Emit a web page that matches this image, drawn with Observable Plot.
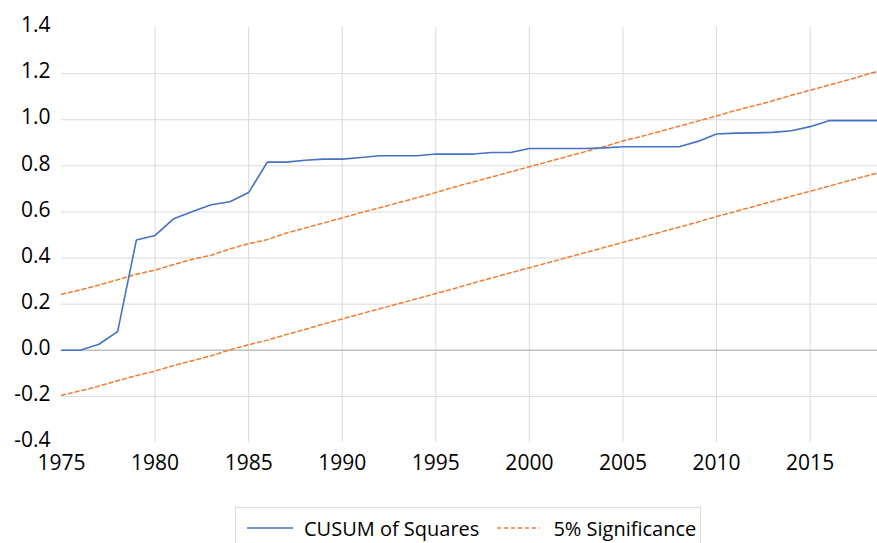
<!DOCTYPE html>
<html><head><meta charset="utf-8">
<script src="https://cdn.jsdelivr.net/npm/d3@7"></script>
<script src="https://cdn.jsdelivr.net/npm/@observablehq/plot@0.6"></script>
<style>
body{margin:0;background:#fff;font-family:"Open Sans",sans-serif;}
#chart{position:absolute;left:0;top:0;}
#legend{position:absolute;left:235px;top:507px;width:466px;height:42px;border:1px solid #d9d9d9;box-sizing:border-box;display:flex;align-items:center;padding-left:11px;font-size:20px;color:#000;white-space:nowrap;}
#legend .item{display:flex;align-items:center;}
#legend .item + .item{margin-left:18px;}
</style>
</head><body>
<div id="chart"></div>
<div id="legend"></div>
<script>
const years = [1975,1976,1977,1978,1979,1980,1981,1982,1983,1984,1985,1986,1987,1988,1989,1990,1991,1992,1993,1994,1995,1996,1997,1998,1999,2000,2001,2002,2003,2004,2005,2006,2007,2008,2009,2010,2011,2012,2013,2014,2015,2016,2017,2018,2019];
const cusum = [0.0,0.0,0.026,0.081,0.478,0.498,0.571,0.602,0.631,0.644,0.684,0.816,0.816,0.824,0.829,0.829,0.836,0.844,0.844,0.844,0.851,0.851,0.851,0.858,0.858,0.875,0.875,0.875,0.875,0.878,0.883,0.883,0.883,0.883,0.906,0.938,0.942,0.943,0.945,0.952,0.970,0.996,0.996,0.996,0.996];
const upper = [0.243,0.262,0.283,0.306,0.330,0.348,0.372,0.395,0.412,0.440,0.462,0.480,0.508,0.530,0.552,0.574,0.597,0.618,0.640,0.662,0.684,0.708,0.730,0.752,0.774,0.796,0.818,0.840,0.862,0.884,0.908,0.928,0.950,0.972,0.994,1.016,1.040,1.060,1.082,1.106,1.128,1.150,1.172,1.196,1.218];
const lower = [-0.195,-0.176,-0.155,-0.132,-0.110,-0.090,-0.066,-0.045,-0.024,0.002,0.024,0.044,0.068,0.090,0.114,0.136,0.158,0.180,0.202,0.224,0.246,0.268,0.292,0.314,0.336,0.358,0.380,0.402,0.424,0.446,0.468,0.490,0.512,0.534,0.556,0.580,0.602,0.624,0.646,0.668,0.690,0.712,0.734,0.756,0.778];
const xTicks = [1975,1980,1985,1990,1995,2000,2005,2010,2015];
const yTicks = [-0.4,-0.2,0.0,0.2,0.4,0.6,0.8,1.0,1.2,1.4];
const yGrid = [-0.2,0.2,0.4,0.6,0.8,1.0,1.2];
const xGrid = [1980,1985,1990,1995,2000,2005,2010,2015];
const seriesNames = ["CUSUM of Squares","5% Significance"];

const data = years.map((y,i)=>({year:y, cusum:cusum[i], upper:upper[i], lower:lower[i]}));

const blue = "#4472C4", orange = "#ED7D31";

const chart = Plot.plot({
  width: 877,
  height: 500,
  marginLeft: 61,
  marginRight: 0,
  marginTop: 27,
  marginBottom: 58,
  style: {fontFamily: "'Open Sans', sans-serif", fontSize: "21px", color: "#000", background: "#fff"},
  x: {domain: [1975, 2018.6]},
  y: {domain: [-0.4, 1.4]},
  marks: [
    Plot.gridY(yGrid, {stroke: "#d9d9d9", strokeOpacity: 1, strokeWidth: 1}),
    Plot.gridX(xGrid, {stroke: "#d9d9d9", strokeOpacity: 1, strokeWidth: 1}),
    Plot.ruleY([0], {stroke: "#bfbfbf", strokeWidth: 1.5}),
    Plot.lineY(data, {x: "year", y: "upper", stroke: orange, strokeWidth: 1.5, strokeDasharray: "4,3", clip: true}),
    Plot.lineY(data, {x: "year", y: "lower", stroke: orange, strokeWidth: 1.5, strokeDasharray: "4,3", clip: true}),
    Plot.lineY(data, {x: "year", y: "cusum", stroke: blue, strokeWidth: 1.6, clip: true}),
    Plot.axisX(xTicks, {tickSize: 0, tickPadding: 13, tickFormat: d => String(d), fontSize: 21, label: null}),
    Plot.axisY(yTicks, {tickSize: 0, tickPadding: 11, dy: -2, tickFormat: d => d.toFixed(1), fontSize: 21, label: null})
  ]
});
document.getElementById("chart").appendChild(chart);

const legend = document.getElementById("legend");
const items = [
  {name: seriesNames[0], color: blue, dash: null, w: 46, gap: 11},
  {name: seriesNames[1], color: orange, dash: "4,3", w: 43, gap: 13}
];
for (const it of items) {
  const d = document.createElement("div");
  d.className = "item";
  d.innerHTML = `<svg width="${it.w}" height="10" style="margin-right:${it.gap}px"><line x1="0" x2="${it.w}" y1="5" y2="5" stroke="${it.color}" stroke-width="1.5" ${it.dash ? `stroke-dasharray="${it.dash}"` : ""}/></svg><span>${it.name}</span>`;
  legend.appendChild(d);
}
</script>
</body></html>
